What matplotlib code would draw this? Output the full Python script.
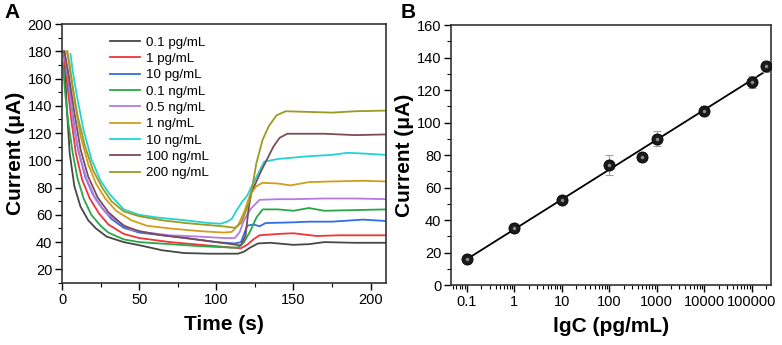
import numpy as np
import matplotlib
matplotlib.use('Agg')
import matplotlib.pyplot as plt
from matplotlib.ticker import MultipleLocator, FixedLocator, NullFormatter, LogLocator

plt.rcParams['font.family'] = ['Liberation Sans', 'DejaVu Sans']

# ---- panel A: current vs time for each concentration ----
labels = ['0.1 pg/mL', '1 pg/mL', '10 pg/mL', '0.1 ng/mL', '0.5 ng/mL',
          '1 ng/mL', '10 ng/mL', '100 ng/mL', '200 ng/mL']
colors = ['#474747', '#f2333a', '#2f6fe3', '#27a845', '#b67ae6',
          '#cf9e1c', '#22d3d3', '#7a4d55', '#999b22']

t_01pg = [0, 1.5, 3, 5, 8, 12, 17, 22, 29, 40, 51, 65, 79, 95, 114, 118, 122, 127, 135, 150, 160, 170, 190, 210]
i_01pg = [180, 178, 140, 105, 81, 66, 56, 50, 44, 40, 37.5, 34, 32, 31.5, 31.5, 33, 36, 39, 39.5, 38, 38.5, 40, 39.5, 39.5]

t_1pg = [1, 3, 6, 9, 13, 18, 24, 30, 40, 50, 70, 90, 110, 116, 120, 124, 128, 140, 150, 165, 180, 210]
i_1pg = [180, 160, 130, 105, 86, 72, 61, 53, 46, 43, 40, 38, 36, 35.5, 38, 42, 45, 46, 46.5, 44.5, 45, 45]

t_10pg = [1.5, 3, 6, 10, 15, 20, 26, 32, 40, 50, 65, 80, 100, 112, 116, 118, 120, 124, 128, 132, 150, 160, 175, 195, 210]
i_10pg = [180, 168, 140, 110, 88, 75, 65, 57, 50.5, 47, 45, 43, 40, 39, 40, 46, 52, 53, 51.6, 54, 54.5, 55, 55, 56.5, 55.5]

t_01ng = [0.5, 2, 4, 7, 10, 14, 19, 25, 30, 40, 50, 70, 90, 110, 114, 118, 122, 126, 130, 140, 150, 160, 170, 190, 210]
i_01ng = [172, 150, 128, 105, 87, 72, 60, 52, 47, 42, 40, 38.5, 37, 36, 36, 40, 48, 58, 64, 64, 63, 65, 63, 63.5, 64]

t_05ng = [1.5, 4, 7, 11, 16, 22, 28, 35, 45, 55, 70, 90, 105, 112, 115, 118, 122, 128, 140, 150, 170, 190, 210]
i_05ng = [178, 160, 130, 105, 86, 71, 62, 56, 49, 47, 45, 44, 43, 43, 47, 56, 64, 71, 71.5, 71.5, 72, 72, 71.5]

t_1ng = [3, 5, 8, 12, 17, 22, 28, 35, 45, 55, 70, 90, 105, 110, 114, 118, 122, 126, 130, 140, 148, 160, 175, 195, 210]
i_1ng = [180, 170, 145, 118, 97, 83, 72, 63, 56, 52, 50, 48, 47, 47.5, 52, 62, 75, 81, 83.5, 83, 81.6, 84, 84.5, 85, 84.5]

t_10ng = [5.5, 7, 10, 14, 19, 25, 31, 40, 50, 62, 80, 95, 103, 107, 110, 113, 117, 120, 123, 127, 131, 140, 150, 160, 175, 185, 195, 210]
i_10ng = [178, 165, 145, 122, 101, 85, 75, 64, 60, 58, 56, 54, 53.5, 55, 57, 63, 70, 74, 81, 90, 99, 101, 102, 103, 104, 105.5, 105, 104]

t_100ng = [1.5, 4, 8, 12, 17, 23, 30, 40, 50, 65, 80, 100, 110, 116, 119, 121, 123, 125, 129, 133, 137, 141, 146, 170, 190, 210]
i_100ng = [180, 165, 135, 108, 88, 73, 62, 52, 48, 45, 43, 40, 38.5, 37.5, 45, 65, 78, 82, 92, 101, 110, 116.5, 119.5, 119.5, 118.5, 119]

t_200ng = [3.5, 6, 10, 15, 20, 26, 32, 40, 50, 65, 80, 95, 105, 112, 116, 119, 122, 126, 130, 134, 139, 145, 160, 175, 190, 210]
i_200ng = [180, 160, 133, 110, 93, 80, 70, 62.5, 59, 56, 54, 52.5, 51.5, 50.5, 54, 62, 72, 98, 115, 125, 133, 136, 135.5, 135, 136, 136.5]

times = [t_01pg, t_1pg, t_10pg, t_01ng, t_05ng, t_1ng, t_10ng, t_100ng, t_200ng]
currents = [i_01pg, i_1pg, i_10pg, i_01ng, i_05ng, i_1ng, i_10ng, i_100ng, i_200ng]

# ---- panel B: calibration ----
conc = [0.1, 1, 10, 100, 500, 1000, 10000, 100000, 200000]
resp = [16, 35, 52.5, 74, 79, 90, 107, 125, 134.5]
resp_err = [1, 1, 1.5, 6, 1.5, 4.5, 1, 3.5, 3.5]
xtick_vals = [0.1, 1, 10, 100, 1000, 10000, 100000]
xtick_labels = ['0.1', '1', '10', '100', '1000', '10000', '100000']

fig = plt.figure(figsize=(7.82, 3.45), dpi=100)
axA = fig.add_axes([0.0793, 0.1797, 0.4143, 0.7507])
axB = fig.add_axes([0.5767, 0.1739, 0.4092, 0.7536])

for t, i, c, lab in zip(times, currents, colors, labels):
    axA.plot(t, i, color=c, lw=1.3, label=lab)

axA.set_xlim(0, 210)
axA.set_ylim(10, 200)
axA.xaxis.set_major_locator(MultipleLocator(50))
axA.xaxis.set_minor_locator(MultipleLocator(25))
axA.yaxis.set_minor_locator(MultipleLocator(10))
axA.set_yticks(np.arange(20, 201, 20))
axA.set_xlabel('Time (s)', fontsize=15, fontweight='bold', labelpad=6)
axA.set_ylabel('Current (\u03bcA)', fontsize=15, fontweight='bold', labelpad=2)
leg = axA.legend(loc='upper left', bbox_to_anchor=(0.147, 0.952), frameon=False,
                 fontsize=9.6, handlelength=2.3, handletextpad=0.4, labelspacing=0.3,
                 borderaxespad=0, borderpad=0)

# calibration fit in log space
lx = np.log10(conc)
slope, icpt = np.polyfit(lx, resp, 1)
fit_x = np.array([conc[0], conc[-1]])
axB.plot(fit_x, icpt + slope * np.log10(fit_x), color='black', lw=1.3, zorder=2)
axB.errorbar(conc, resp, yerr=resp_err, fmt='none', ecolor='#a0a0a0', elinewidth=0.8,
             capsize=3, capthick=0.8, zorder=3)
axB.plot(conc, resp, 'o', ms=8, mfc='#1a1a1a', mec='black', mew=0.6, zorder=4)
axB.plot(conc, resp, 'o', ms=2.5, mfc='#8a8a8a', mec='none', zorder=5)

axB.set_xscale('log')
axB.set_xlim(0.046, 2.55e5)
axB.set_ylim(0, 160)
axB.xaxis.set_major_locator(FixedLocator(xtick_vals))
axB.set_xticklabels(xtick_labels)
axB.xaxis.set_minor_locator(LogLocator(base=10, subs=np.arange(2, 10)))
axB.xaxis.set_minor_formatter(NullFormatter())
axB.yaxis.set_major_locator(MultipleLocator(20))
axB.yaxis.set_minor_locator(MultipleLocator(10))
axB.set_xlabel('lgC (pg/mL)', fontsize=15, fontweight='bold', labelpad=6)
axB.set_ylabel('Current (\u03bcA)', fontsize=15, fontweight='bold', labelpad=2)

for ax in (axA, axB):
    for s in ax.spines.values():
        s.set_linewidth(1.2)
        s.set_color('#333333')
    ax.tick_params(which='major', direction='out', length=5, width=1, labelsize=10.5,
                   colors='black', pad=2)
    ax.tick_params(which='minor', direction='out', length=3, width=0.8)

fig.text(0.006, 0.99, 'A', fontsize=15, fontweight='bold', va='top', ha='left')
fig.text(0.512, 0.99, 'B', fontsize=15, fontweight='bold', va='top', ha='left')

fig.savefig('out.png', dpi=100)
